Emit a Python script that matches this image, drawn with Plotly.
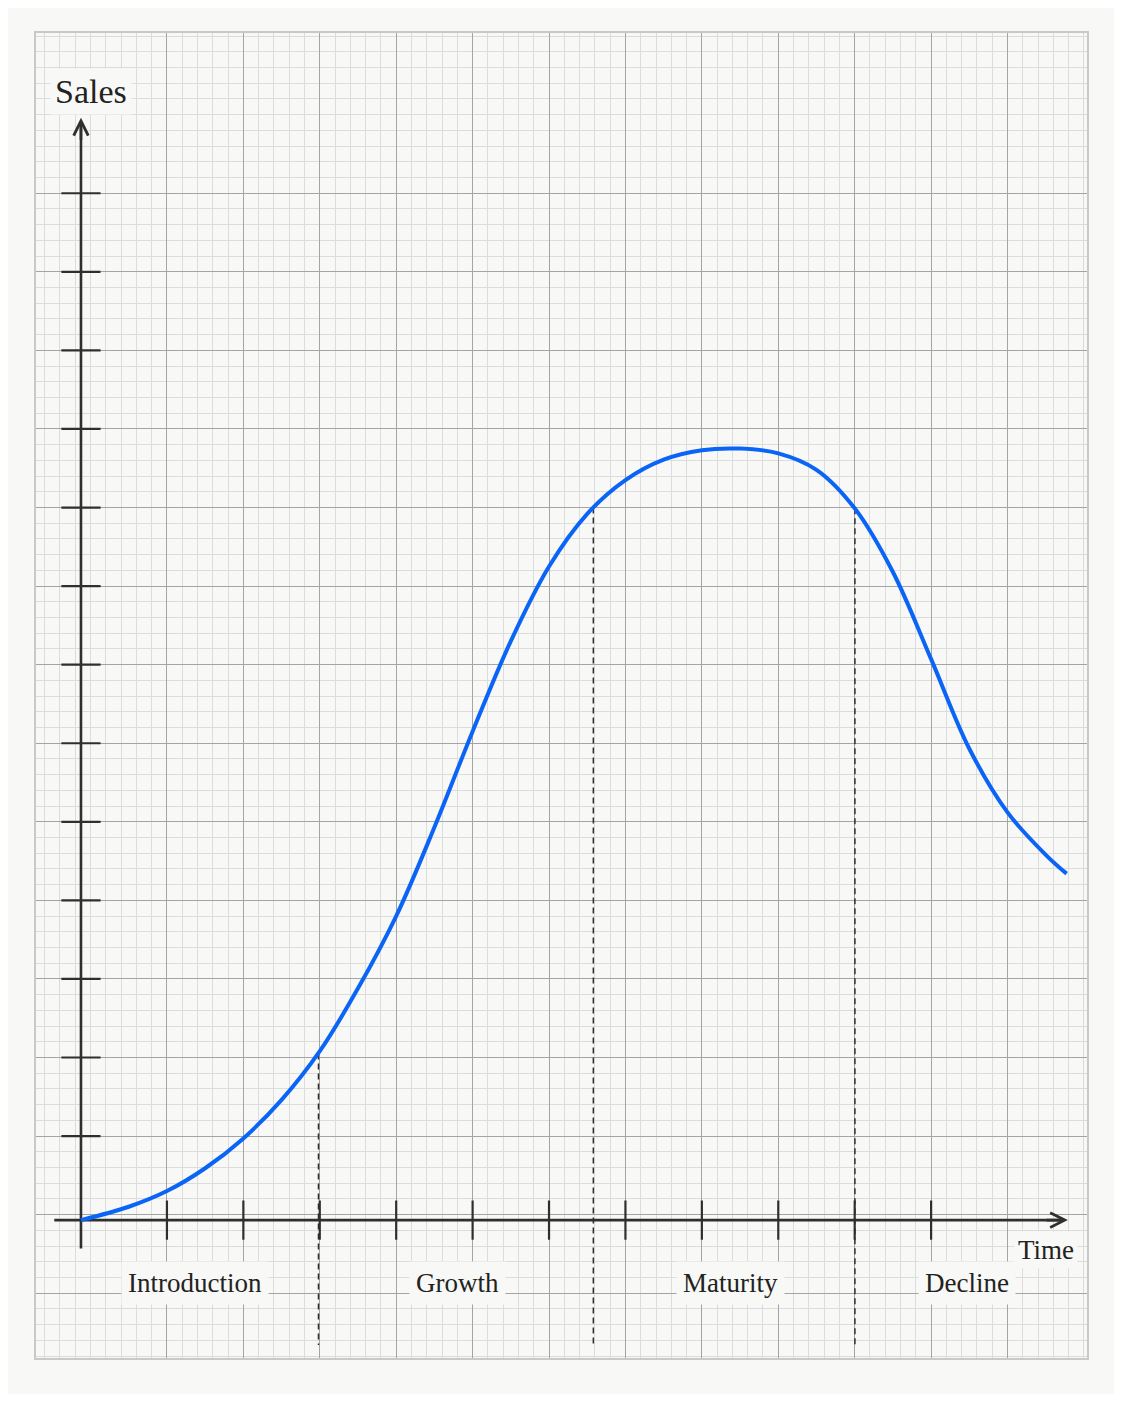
import plotly.graph_objects as go

# Product life cycle curve, in graph-paper units (one major square = 1)
time = [-0.125, 0.5, 1.0, 1.5, 2.0, 2.5, 3.0, 3.5, 4.0, 4.5, 5.0, 5.5, 6.0, 6.5,
        7.0, 7.5, 8.0, 8.5, 9.0, 9.5, 10.0, 10.5, 11.0, 11.5, 12.0, 12.5, 12.773]
sales = [-0.07, 0.10, 0.30, 0.59, 0.97, 1.46, 2.08, 2.88, 3.80, 4.93, 6.15, 7.30, 8.25, 8.92,
         9.35, 9.61, 9.73, 9.75, 9.69, 9.48, 8.99, 8.18, 7.07, 5.93, 5.12, 4.58, 4.34]

stage_names = ["Introduction", "Growth", "Maturity", "Decline"]
stage_centers = [1.37, 4.80, 8.38, 11.47]
stage_bounds = [2.983, 6.58, 10.003]
bound_tops = [2.05, 9.0, 8.99]

x_ticks = list(range(1, 12))
y_ticks = list(range(1, 14))

origin_x, origin_y = -0.125, -0.07
x_axis_end, y_axis_end = 12.79, 13.96

BG = "#f8f8f6"
INK = "#2f2f2f"
FONT = "Liberation Serif"

fig = go.Figure()

# dashed stage boundaries
dx, dy = [], []
for b, top in zip(stage_bounds, bound_tops):
    dx += [b, b, None]
    dy += [top, -1.66, None]
fig.add_trace(go.Scatter(x=dx, y=dy, mode="lines",
                         line=dict(color=INK, width=1.5, dash="6px,4px"),
                         hoverinfo="skip", showlegend=False))

# axis lines
fig.add_trace(go.Scatter(x=[-0.474, x_axis_end - 0.05], y=[origin_y, origin_y], mode="lines",
                         line=dict(color=INK, width=2.6), hoverinfo="skip", showlegend=False))
fig.add_trace(go.Scatter(x=[origin_x, origin_x], y=[-0.43, y_axis_end - 0.05], mode="lines",
                         line=dict(color=INK, width=2.6), hoverinfo="skip", showlegend=False))

# tick marks
fig.add_trace(go.Scatter(x=x_ticks, y=[origin_y] * len(x_ticks), mode="markers",
                         marker=dict(symbol="line-ns", size=28, line=dict(color=INK, width=2.2)),
                         hoverinfo="skip", showlegend=False))
fig.add_trace(go.Scatter(x=[origin_x] * len(y_ticks), y=y_ticks, mode="markers",
                         marker=dict(symbol="line-ew", size=28, line=dict(color=INK, width=2.2)),
                         hoverinfo="skip", showlegend=False))

# the curve
fig.add_trace(go.Scatter(x=time, y=sales, mode="lines",
                         line=dict(color="#0a64f5", width=4, shape="spline", smoothing=1.0),
                         showlegend=False))

# arrow heads
for tip, tail in [((x_axis_end, origin_y), (x_axis_end - 0.3, origin_y)),
                  ((origin_x, y_axis_end), (origin_x, y_axis_end - 0.3))]:
    fig.add_annotation(x=tip[0], y=tip[1], ax=tail[0], ay=tail[1],
                       xref="x", yref="y", axref="x", ayref="y", text="",
                       showarrow=True, arrowhead=5, arrowsize=1.1, arrowwidth=2.6,
                       arrowcolor=INK, standoff=0)

# labels
for name, cx in zip(stage_names, stage_centers):
    fig.add_annotation(x=cx, y=-0.87, text=name, showarrow=False,
                       font=dict(family=FONT, size=27, color="#222"),
                       bgcolor=BG, borderpad=6)
fig.add_annotation(x=0.01, y=14.29, text="Sales", showarrow=False,
                   font=dict(family=FONT, size=34, color="#222"), bgcolor=BG, borderpad=4)
fig.add_annotation(x=12.5, y=-0.45, text="Time", showarrow=False,
                   font=dict(family=FONT, size=27, color="#222"), bgcolor=BG, borderpad=3)

axis_common = dict(showticklabels=False, zeroline=False, ticks="",
                   showline=True, mirror=True, linecolor="#c9c9c9", linewidth=2,
                   gridcolor="#a4a4a4", gridwidth=1.2,
                   minor=dict(dtick=0.2, tick0=0, showgrid=True, gridcolor="#dcdcdc", gridwidth=1))
fig.update_xaxes(range=[-0.7135, 13.04], tickmode="array", tickvals=list(range(1, 13)), **axis_common)
fig.update_yaxes(range=[-1.825, 15.04], tickmode="array", tickvals=[-1] + list(range(0, 14)), **axis_common)

fig.update_layout(width=1106, height=1386,
                  margin=dict(l=28, r=27, t=25, b=36),
                  paper_bgcolor=BG, plot_bgcolor=BG,
                  showlegend=False)

fig.write_html("out.html")
